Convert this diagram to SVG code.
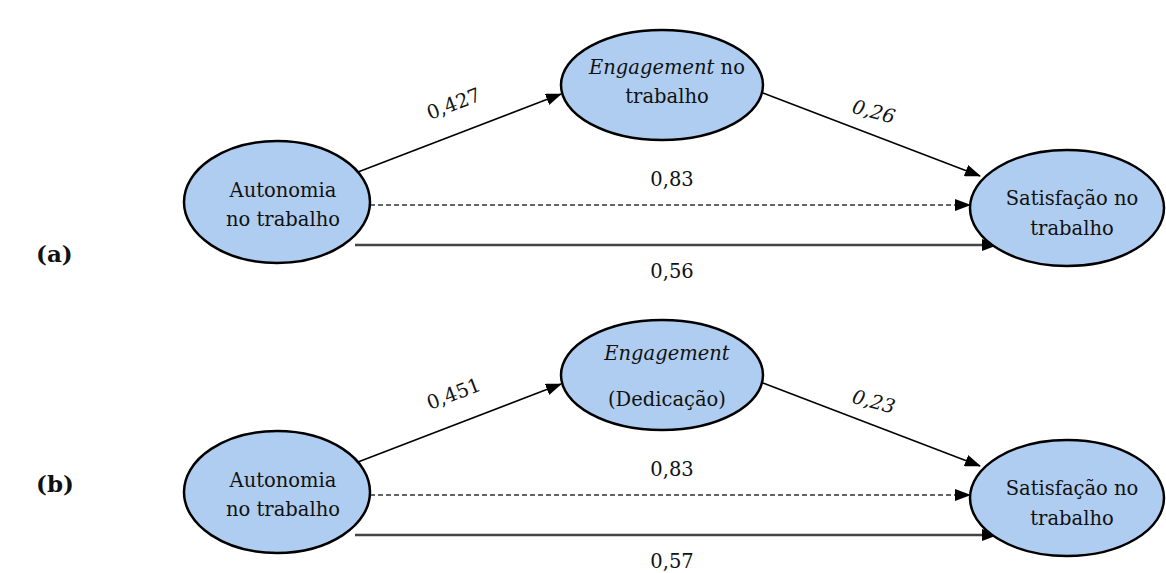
<svg xmlns="http://www.w3.org/2000/svg" width="1166" height="573" viewBox="0 0 1166 573">
<style>
.node ellipse{fill:#afcdf0;stroke:#000;stroke-width:2.5}
text{font-family:'DejaVu Serif','Liberation Serif',serif;font-size:19.5px;fill:#111}
.c{text-anchor:middle}
.it{font-style:italic}
.lbl{font-weight:bold;font-size:23px}
.edge{stroke:#000;stroke-width:1.5;fill:none}
.dash{stroke:#333;stroke-width:1.5;stroke-dasharray:5 3;fill:none}
.thick{stroke:#444;stroke-width:2.5;fill:none}
</style>
<defs>
<marker id="ah" markerWidth="16" markerHeight="12" refX="15" refY="6" orient="auto" markerUnits="userSpaceOnUse">
<path d="M0,0 L16,6 L0,12 Z" fill="#000"/>
</marker>
</defs>
<text class="lbl" x="36" y="262">(a)</text>
<text class="lbl" x="36" y="492">(b)</text>

<g id="connectors">
<line class="edge" x1="358" y1="172" x2="561" y2="94" marker-end="url(#ah)"/>
<line class="edge" x1="763" y1="93" x2="980" y2="176" marker-end="url(#ah)"/>
<line class="dash" x1="370" y1="205" x2="970" y2="205" marker-end="url(#ah)"/>
<line class="thick" x1="355" y1="245" x2="997" y2="245" marker-end="url(#ah)"/>
<text class="c" transform="translate(456,110) rotate(-21)">0,427</text>
<text class="c it" transform="translate(872,118) rotate(15)">0,26</text>
<text class="c" x="672" y="186">0,83</text>
<text class="c" x="672" y="278">0,56</text>

<line class="edge" x1="358" y1="462" x2="561" y2="384" marker-end="url(#ah)"/>
<line class="edge" x1="763" y1="383" x2="980" y2="466" marker-end="url(#ah)"/>
<line class="dash" x1="370" y1="495" x2="970" y2="495" marker-end="url(#ah)"/>
<line class="thick" x1="355" y1="535" x2="997" y2="535" marker-end="url(#ah)"/>
<text class="c" transform="translate(456,400) rotate(-21)">0,451</text>
<text class="c it" transform="translate(872,408) rotate(15)">0,23</text>
<text class="c" x="672" y="476">0,83</text>
<text class="c" x="672" y="568">0,57</text>
</g>

<g id="autonomia-a" class="node">
<ellipse cx="277" cy="202" rx="93" ry="61"/>
<text class="c" x="283" y="197">Autonomia</text>
<text class="c" x="283" y="226">no trabalho</text>
</g>
<g id="engagement-a" class="node">
<ellipse cx="662" cy="85" rx="101" ry="55"/>
<text class="c" x="667" y="74"><tspan class="it">Engagement</tspan> no</text>
<text class="c" x="667" y="103">trabalho</text>
</g>
<g id="satisfacao-a" class="node">
<ellipse cx="1067" cy="208" rx="97" ry="58"/>
<text class="c" x="1072" y="205">Satisfação no</text>
<text class="c" x="1072" y="235">trabalho</text>
</g>

<g id="autonomia-b" class="node">
<ellipse cx="277" cy="492" rx="93" ry="61"/>
<text class="c" x="283" y="487">Autonomia</text>
<text class="c" x="283" y="516">no trabalho</text>
</g>
<g id="engagement-b" class="node">
<ellipse cx="662" cy="375" rx="101" ry="55"/>
<text class="c it" x="667" y="360">Engagement</text>
<text class="c" x="667" y="406">(Dedicação)</text>
</g>
<g id="satisfacao-b" class="node">
<ellipse cx="1067" cy="498" rx="97" ry="58"/>
<text class="c" x="1072" y="495">Satisfação no</text>
<text class="c" x="1072" y="525">trabalho</text>
</g>
</svg>
